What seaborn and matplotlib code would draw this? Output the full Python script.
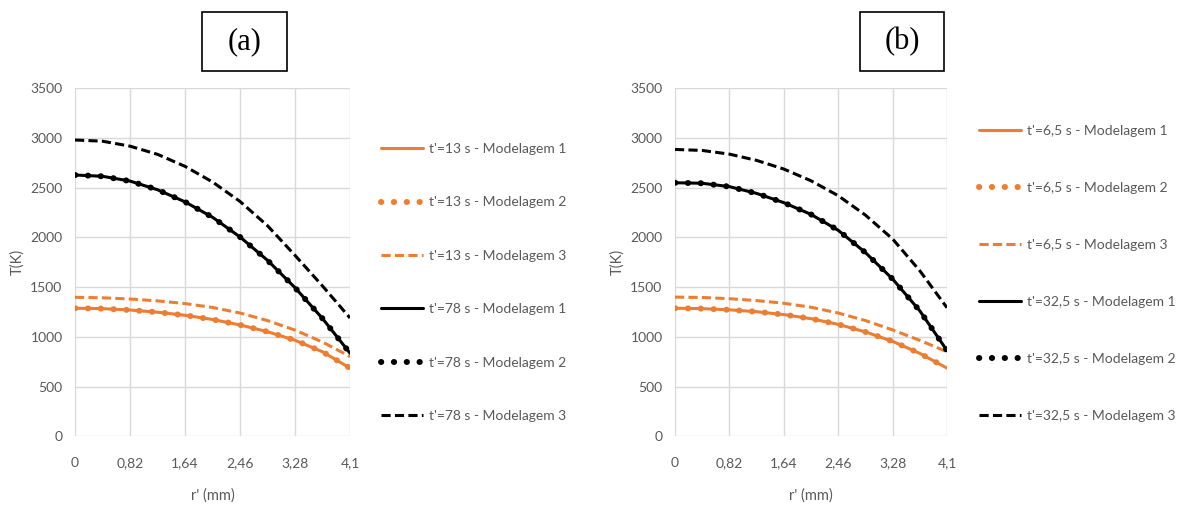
import matplotlib
matplotlib.use("Agg")
import matplotlib.pyplot as plt
import seaborn as sns
from matplotlib.patches import Rectangle

# ---------------- data ----------------
r_mm = [0, 0.41, 0.82, 1.23, 1.64, 2.05, 2.46, 2.87, 3.28, 3.69, 4.1]
x_ticks = [0, 0.82, 1.64, 2.46, 3.28, 4.1]
x_ticklabels = ["0", "0,82", "1,64", "2,46", "3,28", "4,1"]
y_ticks = [0, 500, 1000, 1500, 2000, 2500, 3000, 3500]

# panel (a)
a_t13_m1 = [1288, 1284, 1270, 1248, 1217, 1175, 1120, 1052, 966, 850, 686]
a_t13_m2 = [1288, 1284, 1270, 1248, 1217, 1175, 1120, 1052, 966, 850, 686]
a_t13_m3 = [1398, 1393, 1381, 1362, 1335, 1296, 1240, 1164, 1068, 948, 802]
a_t78_m1 = [2628, 2615, 2567, 2480, 2358, 2203, 2005, 1770, 1495, 1185, 836]
a_t78_m2 = [2628, 2615, 2567, 2480, 2358, 2203, 2005, 1770, 1495, 1185, 836]
a_t78_m3 = [2980, 2968, 2918, 2836, 2715, 2558, 2362, 2118, 1820, 1512, 1190]
a_labels = ["t'=13 s - Modelagem 1", "t'=13 s - Modelagem 2", "t'=13 s - Modelagem 3",
            "t'=78 s - Modelagem 1", "t'=78 s - Modelagem 2", "t'=78 s - Modelagem 3"]

# panel (b)
b_t65_m1 = [1288, 1284, 1272, 1253, 1224, 1183, 1126, 1050, 955, 834, 686]
b_t65_m2 = [1288, 1284, 1272, 1253, 1224, 1183, 1126, 1050, 955, 834, 686]
b_t65_m3 = [1400, 1396, 1384, 1365, 1338, 1298, 1240, 1164, 1070, 965, 850]
b_t325_m1 = [2550, 2545, 2511, 2443, 2350, 2232, 2072, 1848, 1582, 1262, 863]
b_t325_m2 = [2550, 2545, 2511, 2443, 2350, 2232, 2072, 1848, 1582, 1262, 863]
b_t325_m3 = [2885, 2875, 2838, 2775, 2688, 2570, 2420, 2225, 1985, 1665, 1293]
b_labels = ["t'=6,5 s - Modelagem 1", "t'=6,5 s - Modelagem 2", "t'=6,5 s - Modelagem 3",
            "t'=32,5 s - Modelagem 1", "t'=32,5 s - Modelagem 2", "t'=32,5 s - Modelagem 3"]

panel_titles = ["(a)", "(b)"]
x_label = "r' (mm)"
y_label = "T(K)"

# ---------------- style ----------------
sns.set_style("white")
plt.rcParams['font.family'] = ['Lato', 'DejaVu Sans']

ORANGE = "#ED7D31"
BLACK = "#000000"
GRAY_TXT = "#595959"
GRID = "#D9D9D9"

W, H = 1182, 505
fig = plt.figure(figsize=(W / 100, H / 100), dpi=100)

def fx(px):
    return px / W

def fy(py):
    return 1 - py / H

styles = [
    dict(color=ORANGE, linewidth=2.2, linestyle="-"),
    dict(color=ORANGE, linewidth=4.3, linestyle=(0, (0.05, 2.1)), dash_capstyle="round"),
    dict(color=ORANGE, linewidth=2.2, linestyle=(0, (3, 1.4))),
    dict(color=BLACK, linewidth=2.2, linestyle="-"),
    dict(color=BLACK, linewidth=4.3, linestyle=(0, (0.05, 2.1)), dash_capstyle="round"),
    dict(color=BLACK, linewidth=2.2, linestyle=(0, (3, 1.4))),
]

panels = [
    dict(series=[a_t13_m1, a_t13_m2, a_t13_m3, a_t78_m1, a_t78_m2, a_t78_m3],
         labels=a_labels, left=75, right=350, legx=381, legy=143, lspace=2.98,
         box=(202, 12, 287, 71)),
    dict(series=[b_t65_m1, b_t65_m2, b_t65_m3, b_t325_m1, b_t325_m2, b_t325_m3],
         labels=b_labels, left=675, right=947, legx=979, legy=125, lspace=3.24,
         box=(860, 12, 944, 71)),
]

top_px, bot_px = 88.3, 436.3

for p, title in zip(panels, panel_titles):
    ax = fig.add_axes([fx(p["left"]), fy(bot_px), fx(p["right"] - p["left"]),
                       (bot_px - top_px) / H])
    for vals, lab, st in zip(p["series"], p["labels"], styles):
        sns.lineplot(x=r_mm, y=vals, ax=ax, label=lab, **st)
    ax.set_xlim(0, 4.1)
    ax.set_ylim(0, 3500)
    ax.set_xticks(x_ticks)
    ax.set_xticklabels(x_ticklabels)
    ax.set_yticks(y_ticks)
    ax.grid(True, color=GRID, linewidth=1.0)
    ax.set_axisbelow(True)
    for s in ax.spines.values():
        s.set_visible(False)
    ax.tick_params(axis="both", length=0, labelsize=10, colors=GRAY_TXT)
    ax.tick_params(axis="y", pad=9)
    ax.tick_params(axis="x", pad=15)
    ax.set_xlabel(x_label, fontsize=10.5, color=GRAY_TXT, labelpad=14)
    ax.set_ylabel(y_label, fontsize=10.5, color=GRAY_TXT, labelpad=4)

    leg = ax.legend(loc="upper left", bbox_to_anchor=(fx(p["legx"]), fy(p["legy"])),
                    bbox_transform=fig.transFigure, frameon=False, fontsize=10,
                    labelcolor=GRAY_TXT, handlelength=3.0, handletextpad=0.45,
                    labelspacing=p["lspace"], borderaxespad=0, borderpad=0)

    x0, y0, x1, y1 = p["box"]
    fig.patches.append(Rectangle((fx(x0), fy(y1)), fx(x1 - x0), (y1 - y0) / H,
                                 transform=fig.transFigure, fill=False,
                                 edgecolor="black", linewidth=1.2))
    fig.text(fx((x0 + x1) / 2), fy((y0 + y1) / 2), title, ha="center", va="center",
             fontsize=22, family="Liberation Serif", color="black")

fig.savefig("out.png", dpi=100, facecolor="white")
